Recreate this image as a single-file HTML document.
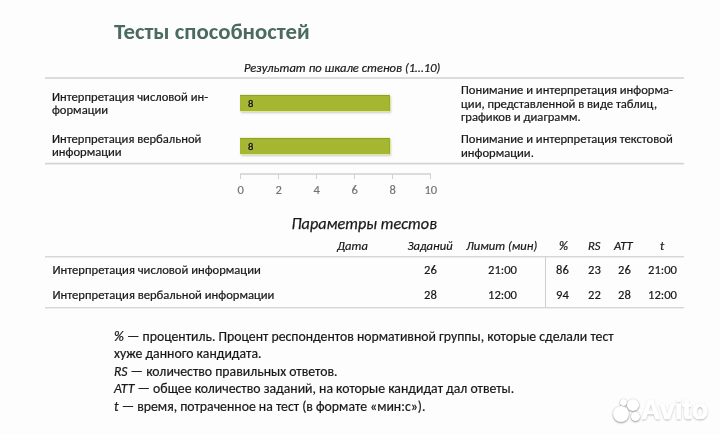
<!DOCTYPE html>
<html lang="ru">
<head>
<meta charset="utf-8">
<style>
html,body{margin:0;padding:0;}
body{width:720px;height:435px;overflow:hidden;background:#fdfdfd;position:relative;
  font-family:"Carlito","Liberation Sans",sans-serif;color:#181818;-webkit-text-stroke-width:0.2px;}
.a{position:absolute;white-space:nowrap;filter:grayscale(1);}
.title{filter:none;will-change:transform;}
.t{font-size:12.6px;line-height:13px;}
.i{font-style:italic;}
.hl{position:absolute;height:2px;background:#dcdcdc;}
.title{-webkit-text-stroke-width:0;left:114px;top:17px;font-size:22.8px;line-height:28px;font-weight:bold;color:#4a6a62;}
.bar{position:absolute;left:240px;width:150px;height:16px;background:#a5b630;
  box-shadow:1px 1px 0 #dde99a,1px 2px 2px rgba(0,0,0,.2),0 -1px 1px rgba(230,235,170,.5);border-top:1px solid #919f2c;border-right:1px solid #9aaa2c;box-sizing:border-box;}
.bar span{will-change:transform;position:absolute;left:7.8px;top:1px;font-size:10.6px;line-height:14px;color:#111;-webkit-text-stroke-width:0.35px;text-shadow:0 0 2px rgba(240,245,190,.7);}
.ax{color:#747474;font-size:12.5px;line-height:13px;}
.tick{position:absolute;top:174px;width:1px;height:5px;background:#d2d2d2;}
.foot{font-size:13.75px;line-height:17.4px;}
.avito{will-change:transform;position:absolute;left:640.5px;top:394.5px;font-size:27px;line-height:30px;font-weight:bold;color:#fff;-webkit-text-stroke:1.1px #fff;letter-spacing:0.2px;
  font-family:"Liberation Sans",sans-serif;text-shadow:0 1px 2px rgba(0,0,0,.42),0 0 1.5px rgba(0,0,0,.2);}
.dot{position:absolute;border-radius:50%;background:#fff;box-shadow:0 1px 2px rgba(0,0,0,.36),0 0 1.5px rgba(0,0,0,.18);}
</style>
</head>
<body>
<div class="a title">Тесты способностей</div>

<div class="a t i" style="left:244px;top:61px;">Результат по шкале стенов (1…10)</div>
<div class="hl" style="left:45px;top:77px;width:639px;"></div>

<div class="a t" style="left:52px;top:90px;">Интерпретация числовой ин-<br>формации</div>
<div class="a t" style="left:52px;top:132px;">Интерпретация вербальной<br>информации</div>

<div class="bar" style="top:95px;"><span>8</span></div>
<div class="bar" style="top:138px;"><span>8</span></div>

<div class="a t" style="left:461px;top:83px;line-height:13.5px;">Понимание и интерпретация информа-<br>ции, представленной в виде таблиц,<br>графиков и диаграмм.</div>
<div class="a t" style="left:461px;top:132px;line-height:13.5px;">Понимание и интерпретация текстовой<br>информации.</div>

<div class="hl" style="left:45px;top:163px;width:639px;height:1px;background:#d3d3d3;box-shadow:0 1px 0 #ebebeb,0 -1px 0 #f3f3f3;"></div>

<div class="hl" style="left:240px;top:173px;width:191px;background:#dcdcdc;"></div>
<div class="tick" style="left:240px;"></div>
<div class="tick" style="left:278px;"></div>
<div class="tick" style="left:316px;"></div>
<div class="tick" style="left:354px;"></div>
<div class="tick" style="left:392px;"></div>
<div class="tick" style="left:430px;"></div>
<div class="a ax" style="left:237.5px;top:183px;">0</div>
<div class="a ax" style="left:275.5px;top:183px;">2</div>
<div class="a ax" style="left:313.5px;top:183px;">4</div>
<div class="a ax" style="left:351.5px;top:183px;">6</div>
<div class="a ax" style="left:389.5px;top:183px;">8</div>
<div class="a ax" style="left:424.5px;top:183px;">10</div>

<div class="a i" style="left:291.5px;top:215px;font-size:16.2px;line-height:18px;-webkit-text-stroke-width:0.25px;">Параметры тестов</div>

<div class="a t i" style="left:337px;top:239px;">Дата</div>
<div class="a t i" style="left:407.5px;top:239px;">Заданий</div>
<div class="a t i" style="left:466px;top:239px;">Лимит (мин)</div>
<div class="a t i" style="left:559px;top:239px;">%</div>
<div class="a t i" style="left:588px;top:239px;">RS</div>
<div class="a t i" style="left:614px;top:239px;">ATT</div>
<div class="a t i" style="left:660px;top:239px;">t</div>

<div class="hl" style="left:45px;top:256px;width:639px;height:1px;background:#d6d6d6;box-shadow:0 1px 0 #ededed;"></div>
<div style="position:absolute;left:545px;top:256px;width:1px;height:52px;background:#cfcfcf;"></div>

<div class="a t" style="left:52.5px;top:263px;">Интерпретация числовой информации</div>
<div class="a t" style="left:424px;top:263px;">26</div>
<div class="a t" style="left:488px;top:263px;">21:00</div>
<div class="a t" style="left:556px;top:263px;">86</div>
<div class="a t" style="left:588px;top:263px;">23</div>
<div class="a t" style="left:618px;top:263px;">26</div>
<div class="a t" style="left:648px;top:263px;">21:00</div>

<div class="a t" style="left:52.5px;top:288px;">Интерпретация вербальной информации</div>
<div class="a t" style="left:424px;top:288px;">28</div>
<div class="a t" style="left:488px;top:288px;">12:00</div>
<div class="a t" style="left:556px;top:288px;">94</div>
<div class="a t" style="left:588px;top:288px;">22</div>
<div class="a t" style="left:618px;top:288px;">28</div>
<div class="a t" style="left:648px;top:288px;">12:00</div>

<div class="hl" style="left:45px;top:307px;width:639px;height:1px;background:#d6d6d6;box-shadow:0 1px 0 #ededed;"></div>

<div class="a foot" style="left:114px;top:328px;"><i>%</i> — процентиль. Процент респондентов нормативной группы, которые сделали тест<br>хуже данного кандидата.<br><i>RS</i> — количество правильных ответов.<br><i>ATT</i> — общее количество заданий, на которые кандидат дал ответы.<br><i>t</i> — время, потраченное на тест (в формате «мин:с»).</div>

<div class="dot" style="left:619.5px;top:399px;width:7px;height:7px;"></div>
<div class="dot" style="left:626.5px;top:398.5px;width:12.5px;height:12px;"></div>
<div class="dot" style="left:613px;top:405.7px;width:16.2px;height:16.2px;"></div>
<div class="dot" style="left:630.5px;top:412.3px;width:9px;height:8.6px;"></div>
<div class="avito">Avito</div>
</body>
</html>
